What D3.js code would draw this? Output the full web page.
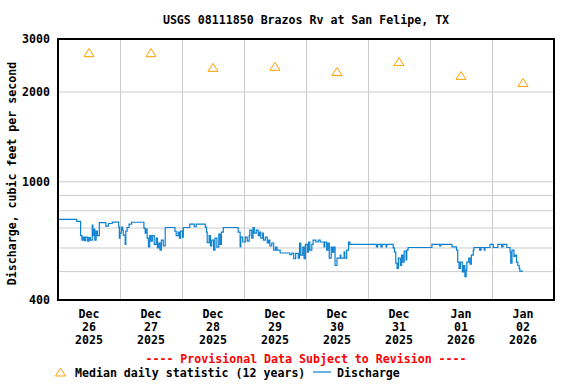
<!DOCTYPE html>
<html>
<head>
<meta charset="utf-8">
<script src="https://cdn.jsdelivr.net/npm/d3@7"></script>
<style>
  body { margin: 0; background: #fff; }
  text { font-family: "DejaVu Sans Mono", "Liberation Mono", monospace; font-weight: bold; font-size: 11.6px; }
</style>
</head>
<body>
<div id="chart"></div>
<script>
// data
var title = "USGS 08111850 Brazos Rv at San Felipe, TX";
var startDate = new Date(2025, 11, 26);
var endDate = new Date(2026, 0, 3);
var days = ["2025-12-26", "2025-12-27", "2025-12-28", "2025-12-29", "2025-12-30", "2025-12-31", "2026-01-01", "2026-01-02"];
var medians = [2700, 2700, 2410, 2430, 2335, 2520, 2265, 2145];
var yTicks = [400, 1000, 2000, 3000];
var yGrid = [500, 600, 700, 800, 900, 1000, 2000];

// discharge: hours since Dec 26 00:00, cfs
var hours = [0, 7.25, 8.75, 9.25, 9.75, 10.25, 10.75, 11.5, 12, 12.5, 13.25, 13.5, 14, 14.25, 14.75, 15.25, 16,
    18.5, 19.5, 21, 23.5, 23.75, 24, 24.5, 25, 25.25, 26, 26.25, 26.75, 27.5, 28.5,
    33.25, 33.75, 34, 34.5, 35, 35.5, 36, 36.5, 37.25, 38, 38.5, 39, 39.5, 40, 40.75, 41.5,
    45.25, 45.75, 46.5, 47, 47.5, 48.25, 48.5, 51, 52.75, 53.5,
    57, 57.5, 57.75, 58.5, 59, 59.5, 60.25, 60.75, 61.5, 62.25, 62.75, 63.25, 64,
    69.75, 70.5, 70.75, 71.5, 72.5, 73.25, 74, 74.25, 75, 75.5, 76, 76.75, 77.5, 78, 78.5, 79.25, 79.5, 80.25, 81, 81.5, 82, 82.75, 83.5, 84.25, 84.75, 86,
    89.75, 90.5, 91.25, 92, 93, 93.5, 94, 94.75, 95.25, 95.75, 96.5, 97, 97.5, 98.25, 98.75, 99.75, 100.75, 101.5,
    103, 103.25, 104, 104.5, 105, 105.75, 106.25, 106.75, 107.25, 108, 109.25, 109.5, 110.75, 111, 111.75, 112.5, 113,
    123.25, 123.75, 125, 125.5, 127, 127.25, 129.75, 130.25, 130.75, 131.25, 131.75, 132.5, 133, 133.5, 134, 134.75, 135, 135.5,
    144.75, 147.75, 148.25, 152.5, 154.25, 154.75, 155.25, 155.75, 156.5, 157, 157.5, 158, 158.25, 159, 159.5, 160, 160.75, 161,
    163.25, 163.75, 165, 165.25, 167.25, 168.5, 170.25, 171.75, 172.25, 173.75, 175, 175.25, 175.75, 176.5, 177, 177.5, 178, 178.5, 178.75, 180];
var cfs = [745, 734, 658, 635, 650, 632, 650, 630, 647, 635, 713, 658, 692, 635, 681, 658, 727,
    708, 722, 730, 702, 645, 670, 702, 686, 660, 615, 681, 700, 718, 729,
    697, 670, 692, 645, 603, 658, 630, 658, 615, 645, 598, 621, 588, 635, 607, 700,
    681, 658, 675, 645, 681, 650, 700, 718, 704, 718,
    702, 675, 623, 658, 607, 635, 588, 645, 602, 665, 615, 675, 700,
    675, 603, 650, 626, 650, 630, 658, 686, 645, 700, 670, 686, 658, 675, 645, 670, 635, 650, 621, 635, 607, 621, 588, 602, 588, 575,
    568, 575, 550, 573, 553, 621, 566, 602, 550, 615, 579, 626, 588, 615, 635, 626, 635, 626,
    603, 626, 588, 621, 553, 602, 579, 602, 522, 553, 566, 553, 580, 553, 588, 626, 615,
    603, 615, 603, 615, 603, 615, 598, 579, 532, 511, 553, 522, 566, 536, 584, 545, 588, 600,
    615, 607, 615, 603, 588, 536, 511, 536, 497, 522, 479, 504, 536, 553, 528, 566, 588, 600,
    588, 600, 588, 600, 615, 600, 615, 603, 615, 600, 579, 532, 588, 560, 566, 536, 522, 511, 500, 500];

var W = 576, H = 384;
var margin = { top: 39, right: 22, bottom: 84, left: 58 },
    width = W - margin.left - margin.right,
    height = H - margin.top - margin.bottom;

var svg = d3.select("#chart").append("svg")
    .attr("width", W)
    .attr("height", H);

var g = svg.append("g")
    .attr("transform", "translate(" + margin.left + "," + margin.top + ")");

var x = d3.scaleTime()
    .domain([startDate, endDate])
    .range([0, width]);

var y = d3.scaleLog()
    .domain([400, 3000])
    .range([height, 0]);

// horizontal grid
g.append("g")
    .attr("class", "y-grid")
    .call(d3.axisLeft(y).tickValues(yGrid).tickSize(-width).tickFormat(""))
    .call(s => s.select(".domain").remove())
    .selectAll("line").attr("stroke", "#cccccc");

// vertical grid at day boundaries
var dayStarts = days.slice(1).map(d => d3.timeParse("%Y-%m-%d")(d));
g.append("g")
    .attr("class", "x-grid")
    .attr("transform", "translate(0," + height + ")")
    .call(d3.axisBottom(x).tickValues(dayStarts).tickSize(-height).tickFormat(""))
    .call(s => s.select(".domain").remove())
    .selectAll("line").attr("stroke", "#cccccc");

// y tick labels
g.append("g")
    .attr("class", "y-axis")
    .call(d3.axisLeft(y).tickValues(yTicks).tickSize(0).tickPadding(8).tickFormat(d3.format("d")))
    .call(s => s.select(".domain").remove())
    .selectAll("text")
    .attr("fill", "#000")
    .style("font-family", "'DejaVu Sans Mono', monospace")
    .style("font-size", "11.6px")
    .style("font-weight", "bold");

// x labels (three lines, centered at noon)
var parse = d3.timeParse("%Y-%m-%d");
var fmtMon = d3.timeFormat("%b"), fmtDay = d3.timeFormat("%d"), fmtYr = d3.timeFormat("%Y");
var xl = g.selectAll(".xlab")
    .data(days)
    .enter().append("text")
    .attr("class", "xlab")
    .attr("text-anchor", "middle")
    .attr("transform", d => "translate(" + x(d3.timeHour.offset(parse(d), 12)) + "," + (height + 18) + ")");
xl.append("tspan").attr("x", 0).attr("y", 0).text(d => fmtMon(parse(d)));
xl.append("tspan").attr("x", 0).attr("y", 13).text(d => fmtDay(parse(d)));
xl.append("tspan").attr("x", 0).attr("y", 26).text(d => fmtYr(parse(d)));

// discharge line
var series = hours.map((h, i) => ({ date: d3.timeMinute.offset(startDate, Math.round(h * 60)), v: cfs[i] }));
g.append("path")
    .datum(series)
    .attr("fill", "none")
    .attr("stroke", "#0a80d0")
    .attr("stroke-width", 1.2)
    .attr("d", d3.line()
        .x(d => x(d.date))
        .y(d => y(d.v))
        .curve(d3.curveStepAfter));

// median triangles
function tri(cx, cy) {
    return "M" + (cx - 5) + "," + (cy + 4) + "L" + cx + "," + (cy - 4) + "L" + (cx + 5) + "," + (cy + 4) + "Z";
}
g.selectAll(".median")
    .data(days)
    .enter().append("path")
    .attr("class", "median")
    .attr("d", (d, i) => tri(x(d3.timeHour.offset(parse(d), 12)), y(medians[i])))
    .attr("fill", "none")
    .attr("stroke", "#ffa000")
    .attr("stroke-width", 1);

// frame
g.append("rect")
    .attr("width", width)
    .attr("height", height)
    .attr("fill", "none")
    .attr("stroke", "#000")
    .attr("stroke-width", 2);

// title
svg.append("text")
    .attr("x", margin.left + width / 2)
    .attr("y", 24)
    .attr("text-anchor", "middle")
    .text(title);

// y axis label
svg.append("text")
    .attr("transform", "translate(16," + (margin.top + height / 2 + 4) + ") rotate(-90)")
    .attr("text-anchor", "middle")
    .text("Discharge, cubic feet per second");

// provisional note
svg.append("text")
    .attr("x", margin.left + width / 2)
    .attr("y", 363)
    .attr("text-anchor", "middle")
    .attr("fill", "#ff0000")
    .text("---- Provisional Data Subject to Revision ----");

// legend
svg.append("path")
    .attr("d", tri(60.5, 372))
    .attr("fill", "none")
    .attr("stroke", "#ffa000");
svg.append("text")
    .attr("x", 75)
    .attr("y", 377)
    .text("Median daily statistic (12 years)");
svg.append("line")
    .attr("x1", 313).attr("x2", 331)
    .attr("y1", 372).attr("y2", 372)
    .attr("stroke", "#0a80d0")
    .attr("stroke-width", 1.2);
svg.append("text")
    .attr("x", 337)
    .attr("y", 377)
    .text("Discharge");
</script>
</body>
</html>
